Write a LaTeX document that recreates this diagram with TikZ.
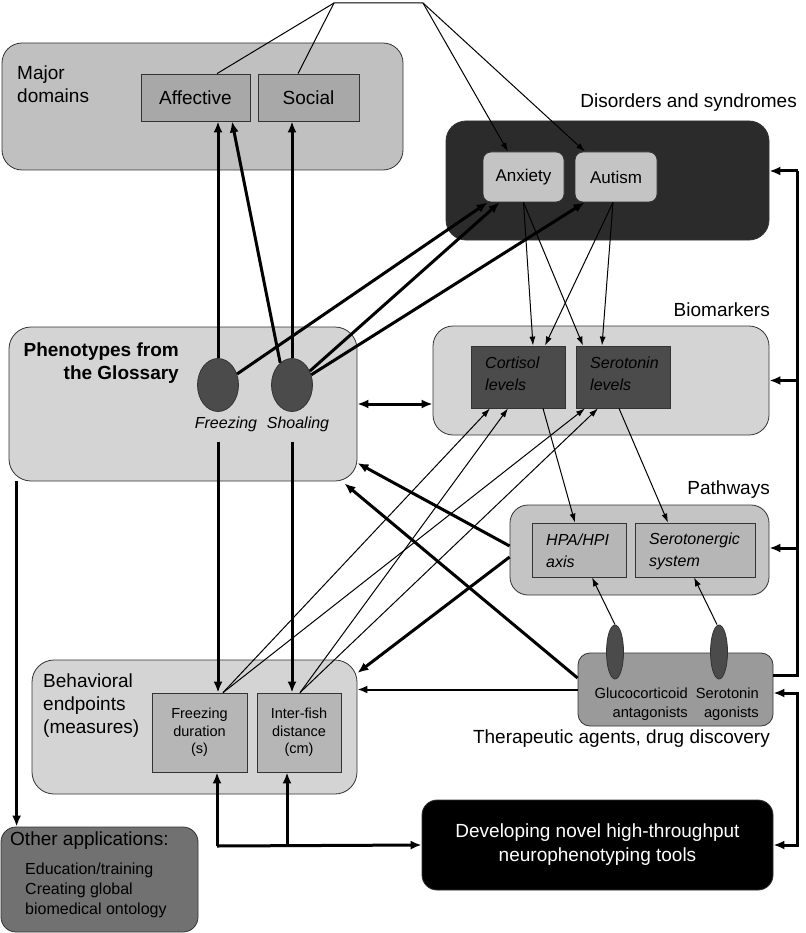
\documentclass[tikz,border=0pt]{standalone}
\usepackage{fontspec}
\setmainfont{Liberation Sans}
\usetikzlibrary{arrows.meta,calc,shapes.geometric}
\definecolor{cMaj}{HTML}{C0C0C0}
\definecolor{cAff}{HTML}{A8A8A8}
\definecolor{cDis}{HTML}{2B2B2B}
\definecolor{cAnx}{HTML}{C4C4C4}
\definecolor{cPhe}{HTML}{D4D4D4}
\definecolor{cDark}{HTML}{4B4B4B}
\definecolor{cMid}{HTML}{B6B6B6}
\definecolor{cThe}{HTML}{9A9A9A}
\definecolor{cOth}{HTML}{717171}
\definecolor{cLine}{HTML}{333333}
\begin{document}
\begin{tikzpicture}[x=1pt,y=-1pt,
  outer/.style={draw=cLine,line width=0.8pt,rounded corners=#1,inner sep=0pt},
  outer/.default=20pt,
  inbox/.style={draw=cLine,line width=0.8pt,inner sep=0pt},
  blob/.style={ellipse,draw=cLine,line width=0.8pt,fill=cDark,inner sep=0pt},
  lbl/.style={inner sep=0pt,font=\fontsize{19}{23}\selectfont},
  lblm/.style={inner sep=0pt,font=\fontsize{17}{21}\selectfont},
  lbli/.style={inner sep=0pt,font=\fontsize{16}{22}\selectfont\itshape},
  lbls/.style={inner sep=0pt,font=\fontsize{14.5}{17.5}\selectfont},
  thk/.style={line width=3pt,-{Latex[length=11pt,width=9pt]}},
  med/.style={line width=2pt,-{Latex[length=10pt,width=8pt]}},
  thn/.style={line width=1pt,-{Latex[length=9pt,width=6pt]}},
  plainthk/.style={line width=3pt},
  plainthn/.style={line width=1pt}
]
\useasboundingbox (0,0) rectangle (805,933);

% ---------- Major domains ----------
\node[outer,fill=cMaj,minimum width=401pt,minimum height=127pt] (maj) at (202.5,106.5) {};
\node[inbox,fill=cAff,minimum width=109pt,minimum height=47pt,lbl] (aff) at (195.5,97.5) {Affective};
\node[inbox,fill=cAff,minimum width=101pt,minimum height=47pt,lbl] (soc) at (308.5,97.5) {Social};
\node[lbl,anchor=west,align=left] (majtxt) at (17,84) {Major\\domains};

% ---------- Disorders ----------
\node[outer,fill=cDis,minimum width=323pt,minimum height=119pt] (dis) at (607.5,180.5) {};
\node[outer=8pt,fill=cAnx,minimum width=81pt,minimum height=50pt,lblm] (anx) at (523.5,177) {Anxiety};
\node[outer=8pt,fill=cAnx,minimum width=82pt,minimum height=50pt,lblm] (aut) at (616,177) {Autism};
\node[lbl,anchor=east] (distxt) at (797,103) {Disorders and syndromes};

% ---------- Phenotypes ----------
\node[outer=22pt,fill=cPhe,minimum width=348pt,minimum height=154pt] (phe) at (183,404) {};
\node[lbl,anchor=east,align=right,font=\fontsize{19}{23}\selectfont\bfseries] (phetxt) at (179,363) {Phenotypes from\\the Glossary};
\node[blob,minimum width=41pt,minimum height=53pt] (fe) at (218,385) {};
\node[blob,minimum width=41pt,minimum height=53pt] (se) at (292,385) {};
\node[lbli] (fl) at (226,424) {Freezing};
\node[lbli] (sl) at (298,424) {Shoaling};

% ---------- Biomarkers ----------
\node[outer,fill=cPhe,minimum width=336pt,minimum height=109pt] (bio) at (601,380.5) {};
\node[inbox,fill=cDark,minimum width=94pt,minimum height=62pt] (cor) at (518,377) {};
\node[inbox,fill=cDark,minimum width=94pt,minimum height=62pt] (ser) at (623,377) {};
\node[lbli,anchor=west,align=left] (cortxt) at (485,374) {Cortisol\\levels};
\node[lbli,anchor=west,align=left] (sertxt) at (590,374) {Serotonin\\levels};
\node[lbl,anchor=east] (biotxt) at (770,310) {Biomarkers};

% ---------- Pathways ----------
\node[outer=18pt,fill=cAnx,minimum width=259pt,minimum height=90pt] (pat) at (639.5,550) {};
\node[inbox,fill=cMid,minimum width=94pt,minimum height=54pt] (hpa) at (579,550) {};
\node[inbox,fill=cMid,minimum width=120pt,minimum height=54pt] (sys) at (695,550) {};
\node[lbli,anchor=west,align=left] (hpatxt) at (546,551) {HPA/HPI\\axis};
\node[lbli,anchor=west,align=left] (systxt) at (649,551) {Serotonergic\\system};
\node[lbl,anchor=east] (pattxt) at (770,490) {Pathways};

% ---------- Therapeutic agents ----------
\node[outer=12pt,fill=cThe,minimum width=195pt,minimum height=73pt] (the) at (675.5,689.5) {};
\node[blob,minimum width=17pt,minimum height=54pt] (ge) at (615,652) {};
\node[blob,minimum width=17pt,minimum height=54pt] (sa) at (719,652) {};
\node[inner sep=0pt,font=\fontsize{14.7}{19}\selectfont,anchor=east,align=right] (getxt) at (688,704.5) {Glucocorticoid\\antagonists};
\node[inner sep=0pt,font=\fontsize{14.7}{19}\selectfont,anchor=east,align=right] (satxt) at (759,704.5) {Serotonin\\agonists};
\node[lbl,anchor=east] (thetxt) at (770,739) {Therapeutic agents, drug discovery};

% ---------- Behavioral endpoints ----------
\node[outer=22pt,fill=cPhe,minimum width=325pt,minimum height=134pt] (beh) at (194.5,727) {};
\node[inbox,fill=cMid,minimum width=95pt,minimum height=79pt] (fd) at (199.5,732.5) {};
\node[inbox,fill=cMid,minimum width=84pt,minimum height=79pt] (ifd) at (299,732.5) {};
\node[lbls,align=center] (fdtxt) at (fd.center) {Freezing\\duration\\(s)};
\node[lbls,align=center] (ifdtxt) at (ifd.center) {Inter-fish\\distance\\(cm)};
\node[lbl,anchor=west,align=left] (behtxt) at (43,706) {Behavioral\\endpoints\\(measures)};

% ---------- Developing tools ----------
\node[outer=15pt,fill=black,minimum width=351pt,minimum height=90pt] (dev) at (597.5,845) {};
\node[inner sep=0pt,font=\fontsize{19}{24}\selectfont,text=white,align=center] (devtxt) at (dev.center) {Developing novel high-throughput\\neurophenotyping tools};

% ---------- Other applications ----------
\node[outer=15pt,fill=cOth,minimum width=197pt,minimum height=105pt] (oth) at (99.5,879.5) {};
\node[lbl,anchor=west] (othtxt) at (10,841) {Other applications:};
\node[inner sep=0pt,font=\fontsize{16}{20}\selectfont,anchor=west,align=left] (othsub) at (25,890) {Education/training\\Creating global\\biomedical ontology};

% ---------- coordinates ----------
\coordinate (t1) at (334,3);
\coordinate (t2) at (423,3);
\coordinate (busx) at (797.5,0);
\coordinate (b1) at (217,846);
\coordinate (b2) at (287,846);

% ---------- top tree ----------
\draw[plainthn] ([xshift=21.5pt]aff.north) -- (t1);
\draw[plainthn] ([xshift=-10.5pt]soc.north) -- (t1) -- (t2);
\draw[thn] (t2) -- ([xshift=-15.5pt]anx.north);
\draw[thn] (t2) -- ([xshift=-31pt]aut.north);

% ---------- phenotypes up ----------
\draw[thk] (fe.north) -- (fe.north |- aff.south);
\draw[thk] (se.118) -- ([xshift=36.5pt]aff.south);
\draw[thk] (se.north) -- (se.north |- soc.south);
\draw[thk] (fe.30) -- ([xshift=5pt]anx.south west);
\draw[thk] (se.38) -- ([xshift=17pt]anx.south west);
\draw[thk] (se.28) -- ([xshift=10pt]aut.south west);

% ---------- disorders to biomarkers ----------
\draw[thn] (anx.south) -- ([xshift=15pt]cor.north);
\draw[thn] (anx.south) -- ([xshift=-40pt]ser.north);
\draw[thn] ([xshift=-3pt]aut.south) -- ([xshift=27pt]cor.north);
\draw[thn] ([xshift=-3pt]aut.south) -- ([xshift=-21pt]ser.north);

% ---------- phenotypes <-> biomarkers ----------
\draw[thk,{Latex[length=11pt,width=9pt]}-{Latex[length=11pt,width=9pt]}] (phe.east) -- (phe.east -| bio.west);

% ---------- biomarkers to pathways ----------
\draw[thn] ([xshift=25pt]cor.south) -- ([xshift=-4pt]hpa.north);
\draw[thn] ([xshift=-4pt]ser.south) -- ([xshift=-27pt]sys.north);

% ---------- behavioral measures to biomarkers ----------
\draw[thn] ([xshift=23.5pt]fd.north) -- ([xshift=-28pt]cor.south);
\draw[thn] ([xshift=23.5pt]fd.north) -- ([xshift=-38pt]ser.south);
\draw[thn] ([xshift=1pt]ifd.north) -- ([xshift=-10pt]cor.south);
\draw[thn] ([xshift=1pt]ifd.north) -- ([xshift=-25pt]ser.south);

% ---------- phenotypes down ----------
\draw[thk] (fe.south |- fl.south) ++(0,10) -- (fe.south |- fd.north);
\draw[thk] (se.south |- sl.south) ++(0,10) -- (se.south |- ifd.north);
\draw[thk] ([xshift=8pt]phe.south west) -- ([xshift=8pt]phe.south west |- oth.north);

% ---------- pathways / therapeutic back ----------
\draw[thk] ([yshift=4pt]pat.west) -- ([yshift=-59pt]phe.east);
\draw[thk] ([yshift=-7pt]pat.west) -- ([yshift=54pt]beh.east);
\draw[thk] ([yshift=11.5pt]the.west) -- ([xshift=-13pt,yshift=-2pt]phe.south east);
\draw[med] (the.west) -- (the.west -| beh.east);

% ---------- therapeutic ellipses up ----------
\draw[thn] (ge.north) -- ([xshift=13pt]hpa.south);
\draw[thn] ([xshift=-2pt]sa.north) -- ([xshift=-1pt]sys.south);

% ---------- right bus ----------
\draw[plainthk] ([yshift=14.5pt]the.east) -- ([yshift=14.5pt]the.east -| busx) -- ([yshift=9.5pt]dis.east -| busx);
\draw[thk] ([yshift=9.5pt]dis.east -| busx) -- ([yshift=9.5pt]dis.east);
\draw[thk] (bio.east -| busx) -- (bio.east);
\draw[thk] ([yshift=2pt]pat.east -| busx) -- ([yshift=2pt]pat.east);
\draw[thk,{Latex[length=11pt,width=9pt]}-{Latex[length=11pt,width=9pt]}] ([yshift=-3.5pt]the.east) -- ([yshift=-3.5pt]the.east -| busx) -- (dev.east -| busx) -- (dev.east);

% ---------- bottom ----------
\draw[thk] (b1) -- (b1 |- fd.south);
\draw[thk] (b2) -- (b2 |- ifd.south);
\draw[thk] (b1) -- (dev.west);
\end{tikzpicture}
\end{document}
